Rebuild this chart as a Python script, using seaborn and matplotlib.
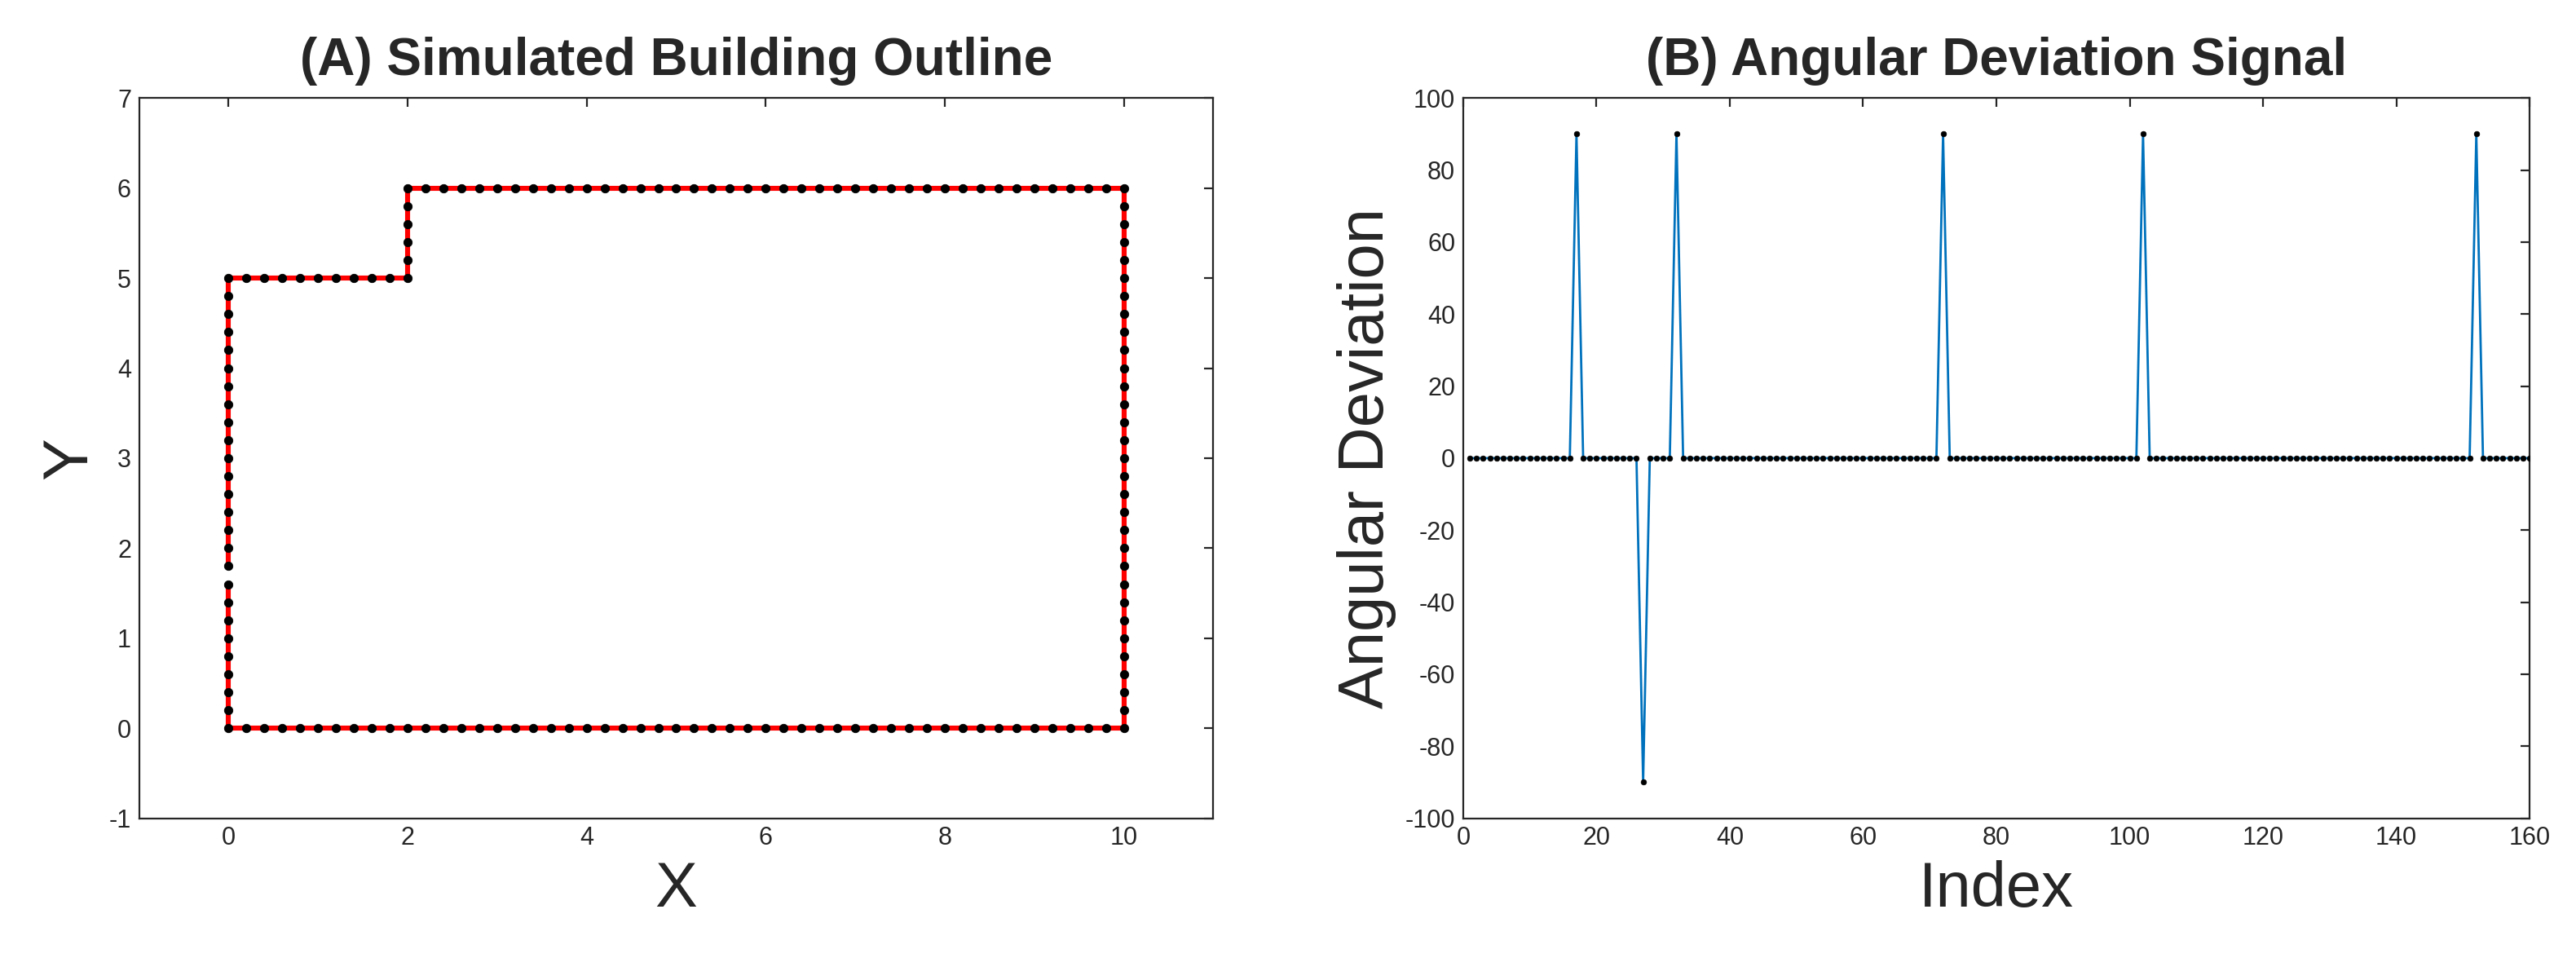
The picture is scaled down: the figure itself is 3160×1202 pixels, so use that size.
import numpy as np
import pandas as pd
import matplotlib
matplotlib.use("Agg")
import matplotlib.pyplot as plt
import seaborn as sns

# outline corners (walked from the start point on the left edge), sampled every 0.2
corner_x = [0, 0, 2, 2, 10, 10, 0, 0]
corner_y = [1.8, 5, 5, 6, 6, 0, 0, 1.6]
step = 0.2

# angular deviation signal (1-based index of spikes)
n_points = 160
spike_index = [17, 27, 32, 72, 102, 152]
spike_value = [90, -90, 90, 90, 90, 90]

xs, ys = [], []
for i in range(len(corner_x) - 1):
    x0, y0, x1, y1 = corner_x[i], corner_y[i], corner_x[i + 1], corner_y[i + 1]
    n = int(round(max(abs(x1 - x0), abs(y1 - y0)) / step))
    for k in range(n + (1 if i == len(corner_x) - 2 else 0)):
        xs.append(x0 + (x1 - x0) * k / n)
        ys.append(y0 + (y1 - y0) * k / n)
outline = pd.DataFrame({"x": xs, "y": ys})

dev = np.zeros(n_points)
for idx, v in zip(spike_index, spike_value):
    dev[idx - 1] = v
signal = pd.DataFrame({"index": np.arange(1, n_points + 1), "dev": dev})

sns.set_style("white")
plt.rcParams['font.family'] = ['Liberation Sans', 'DejaVu Sans']
plt.rcParams['axes.unicode_minus'] = False
fig = plt.figure(figsize=(15.8, 6.01), dpi=200)
ax1 = fig.add_axes([0.054, 0.165, 0.417, 0.735])
ax2 = fig.add_axes([0.568, 0.165, 0.414, 0.735])

sns.lineplot(data=outline, x="x", y="y", sort=False, color="red", lw=2.2, ax=ax1, estimator=None)
sns.scatterplot(data=outline, x="x", y="y", color="black", s=14, edgecolor="black", ax=ax1, zorder=3)
ax1.set_xlim(-1, 11)
ax1.set_ylim(-1, 7)
ax1.set_xticks(range(0, 11, 2))
ax1.set_yticks(range(-1, 8))
ax1.set_xlabel("X", fontsize=28)
ax1.set_ylabel("Y", fontsize=28)
ax1.set_title("(A) Simulated Building Outline", fontsize=23, fontweight="bold", pad=10)

sns.lineplot(data=signal, x="index", y="dev", color="#0072BD", lw=1, ax=ax2, estimator=None)
sns.scatterplot(data=signal, x="index", y="dev", color="black", s=6, edgecolor="black", ax=ax2, zorder=3)
ax2.set_xlim(0, 160)
ax2.set_ylim(-100, 100)
ax2.set_xticks(range(0, 161, 20))
ax2.set_yticks(range(-100, 101, 20))
ax2.set_xlabel("Index", fontsize=28)
ax2.set_ylabel("Angular Deviation", fontsize=28)
ax2.set_title("(B) Angular Deviation Signal", fontsize=23, fontweight="bold", pad=10)

for ax in (ax1, ax2):
    ax.tick_params(direction="in", length=4, labelsize=11, colors="#262626", top=True, right=True,
                   labeltop=False, labelright=False)
    for s in ax.spines.values():
        s.set_color("#262626")
        s.set_linewidth(0.8)

fig.savefig("out.png", dpi=200)
